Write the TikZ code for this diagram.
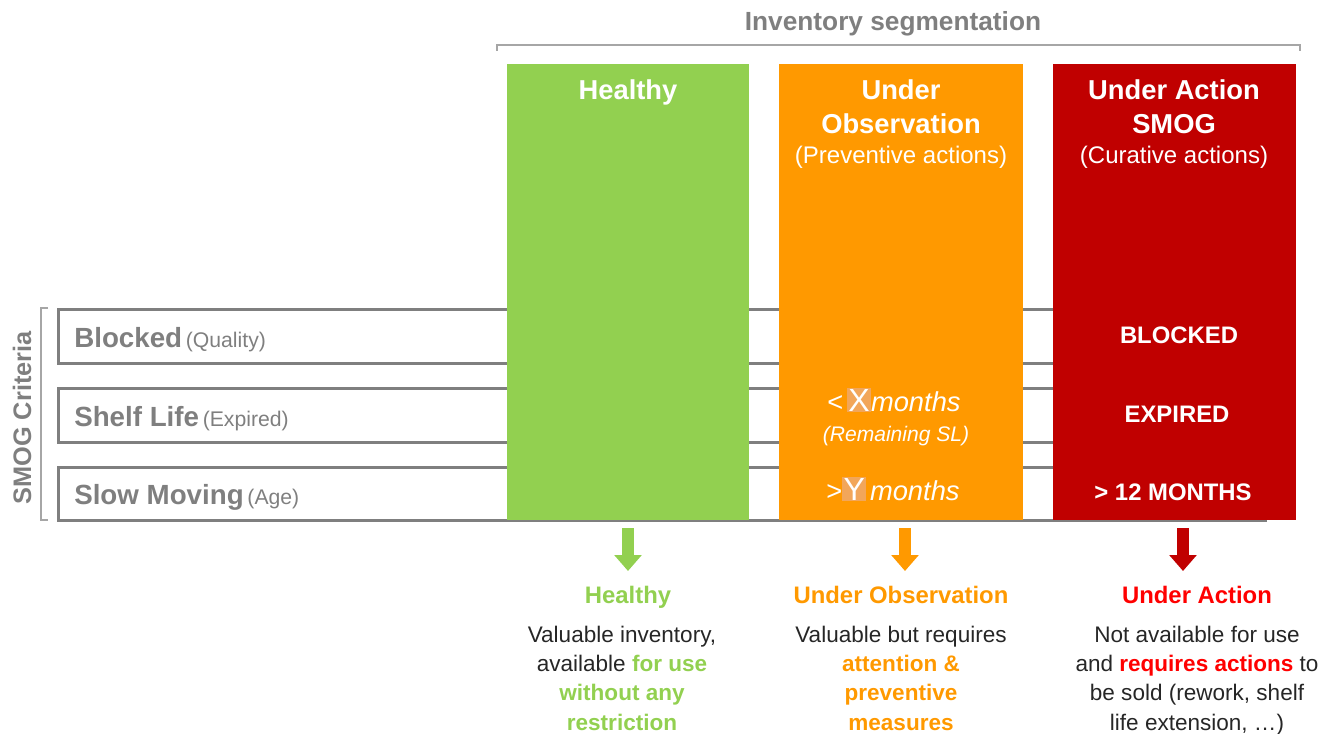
\documentclass[tikz,border=0pt]{standalone}
\usepackage{fontspec}
\setmainfont{Liberation Sans}
\usetikzlibrary{arrows.meta}
\definecolor{cgreen}{HTML}{92D050}
\definecolor{corange}{HTML}{FF9900}
\definecolor{cred}{HTML}{C00000}
\definecolor{cbright}{HTML}{FF0000}
\definecolor{cgray}{HTML}{7F7F7F}
\definecolor{cbrack}{HTML}{A6A6A6}
\definecolor{xbox}{HTML}{F2A65A}
\definecolor{ctext}{HTML}{262626}
\newcommand{\fs}[2]{\fontsize{#1}{#2}\selectfont}
\tikzset{
  rowline/.style={draw=cgray, line width=2.25pt},
  brack/.style={draw=cbrack, line width=1.1pt},
  coltitle/.style={anchor=base, text=white, font=\fs{20.5}{24}\bfseries, inner sep=0pt},
  colsub/.style={anchor=base, text=white, font=\fs{18}{22}, inner sep=0pt},
  cellred/.style={anchor=base, text=white, font=\fs{17.9}{21}\bfseries, inner sep=0pt},
  rowlab/.style={anchor=base west, text=cgray, inner sep=0pt},
  downarrow/.style={line width=9pt, -{Triangle[width=20pt,length=12pt]}},
  result/.style={anchor=base, font=\fs{17.9}{21}\bfseries, inner sep=0pt},
  desc/.style={anchor=base, align=center, text=ctext, font=\fs{16.9}{21.8}, inner sep=0pt},
}
\begin{document}
\begin{tikzpicture}[x=0.75pt,y=-0.75pt]
\path[use as bounding box] (0,0) rectangle (1338,734);
% title and bracket
\node[anchor=base, text=cgray, font=\fs{19.7}{23}\bfseries, inner sep=0pt] (title) at (893,31) {Inventory segmentation};
\draw[brack] (497,51) -- (497,45) -- (1300,45) -- (1300,51);
% rows
\draw[rowline] (58,309) rectangle (1265,363);
\draw[rowline] (58,388) rectangle (1265,442);
\draw[rowline] (58,467) rectangle (1265,520);
% left bracket
\draw[brack] (48,308) -- (41,308) -- (41,520) -- (48,520);
\node[rotate=90, text=cgray, font=\fs{19}{22}\bfseries, inner sep=0pt] (crit) at (22,418) {SMOG Criteria};
% row labels
\node[rowlab] (r1) at (74,347) {{\fs{20.8}{24}\bfseries Blocked} {\fs{15.9}{18}(Quality)}};
\node[rowlab] (r2) at (74,426) {{\fs{20.8}{24}\bfseries Shelf Life} {\fs{15.9}{18}(Expired)}};
\node[rowlab] (r3) at (74,504) {{\fs{20.8}{24}\bfseries Slow Moving} {\fs{15.9}{18}(Age)}};
% columns
\fill[cgreen] (507,64) rectangle (749,520);
\fill[corange] (779,64) rectangle (1023,520);
\fill[cred] (1053,64) rectangle (1296,520);
\coordinate (gbot) at (628,528);
\coordinate (obot) at (905,528);
\coordinate (rbot) at (1183,528);
% column titles
\node[coltitle] (h) at (628,100) {Healthy};
\node[coltitle] (o1) at (901,100) {Under};
\node[coltitle] (o2) at (901,134) {Observation};
\node[colsub] (o3) at (901,164) {(Preventive actions)};
\node[coltitle] (a1) at (1174,100) {Under Action};
\node[coltitle] (a2) at (1174,134) {SMOG};
\node[colsub] (a3) at (1174,164) {(Curative actions)};
% red cells
\node[cellred] (rb) at (1179,343) {BLOCKED};
\node[cellred] (re) at (1177,422) {EXPIRED};
\node[cellred] (rm) at (1173,500) {> 12 MONTHS};
% orange cells
\setlength{\fboxsep}{1pt}
\node[anchor=base, text=white, inner sep=0pt] (ox) at (894,411) {{\fs{20.5}{22}<} {\fs{24}{26}\colorbox{xbox}{X}}{\fs{20.5}{22}\itshape months}};
\node[anchor=base, text=white, font=\fs{15.8}{18}\itshape, inner sep=0pt] (osl) at (896,441) {(Remaining SL)};
\node[anchor=base, text=white, inner sep=0pt] (oy) at (893,500) {{\fs{20.5}{22}>}{\fs{24}{26}\colorbox{xbox}{Y}} {\fs{20.5}{22}\itshape months}};
% arrows
\node[result, text=cgreen] (hl) at (628,603) {Healthy};
\node[result, text=corange] (ol) at (901,603) {Under Observation};
\node[result, text=cbright] (al) at (1197,603) {Under Action};
\draw[downarrow, draw=cgreen, color=cgreen] (gbot) -- (628,571);
\draw[downarrow, draw=corange, color=corange] (obot) -- (905,571);
\draw[downarrow, draw=cred, color=cred] (rbot) -- (1183,571);
% descriptions (anchor = baseline of last line)
\node[desc] (hd) at (622,730) {Valuable inventory,\\ available {\color{cgreen}\bfseries for use}\\ {\color{cgreen}\bfseries without any}\\ {\color{cgreen}\bfseries restriction}};
\node[desc] (od) at (901,730) {Valuable but requires\\ {\color{corange}\bfseries attention \&}\\ {\color{corange}\bfseries preventive}\\ {\color{corange}\bfseries measures}};
\node[desc] (ad) at (1197,730) {Not available for use\\ and {\color{cbright}\bfseries requires actions} to\\ be sold (rework, shelf\\ life extension, \dots)};
\end{tikzpicture}
\end{document}
